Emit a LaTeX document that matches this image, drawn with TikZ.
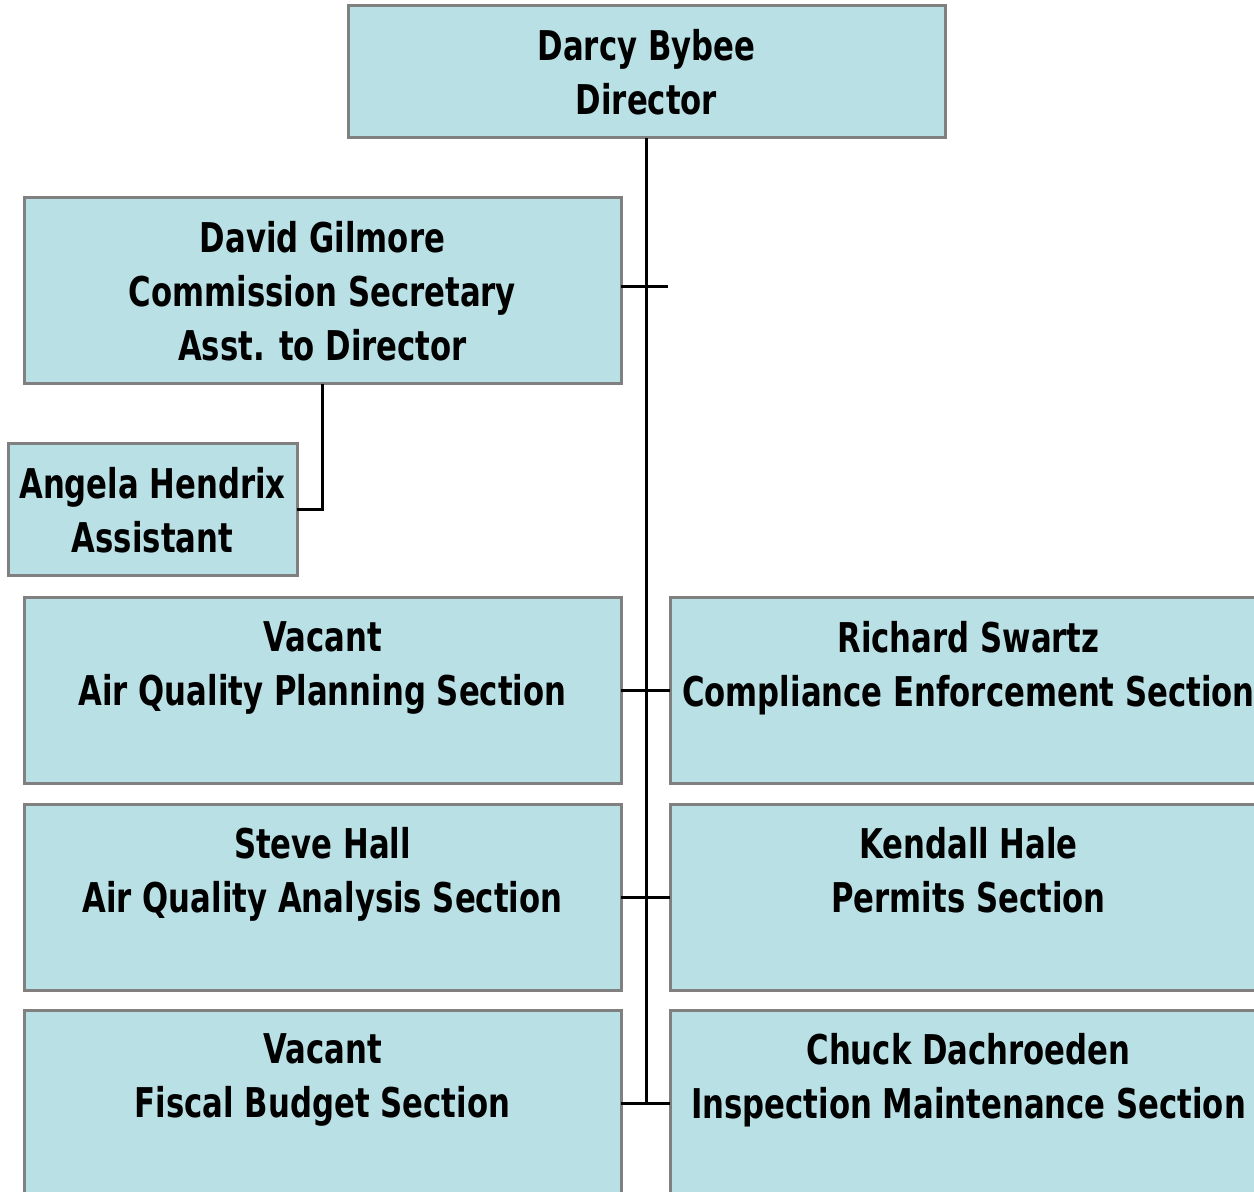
\documentclass[tikz,border=0pt]{standalone}
\usepackage{fontspec}
\setmainfont{DejaVu Sans}[FakeStretch=0.75]
\definecolor{boxfill}{RGB}{185,224,228}
\definecolor{boxline}{RGB}{128,128,128}
\begin{document}
\begin{tikzpicture}[x=0.5pt,y=-0.5pt,
        orgbox/.style={draw=boxline,line width=1.5pt,fill=boxfill,inner sep=0pt,outer sep=0pt,
            align=center,font=\bfseries\fontsize{20.5pt}{27pt}\selectfont,
            minimum width=298.5pt,minimum height=93pt},
        link/.style={line width=1.5pt}]

        % Picture frame
        \clip (0,0) rectangle (1254,1192);

        % Draw the director
        \node[orgbox,minimum height=66pt] (director) at (646.5,72) {Darcy Bybee\\Director};

        % Draw the staff
        \node[orgbox] (gilmore) at (322.5,291) {David Gilmore\\Commission Secretary\\Asst. to Director};
        \node[orgbox,minimum width=144.5pt,minimum height=66pt] (hendrix) at (152.5,510) {Angela Hendrix\\Assistant};

        % Draw the sections
        \node[orgbox] (planning) at (322.5,690.5) {Vacant\\Air Quality Planning Section\\\mbox{}};
        \node[orgbox] (compliance) at (968.5,690.5) {Richard Swartz\\Compliance Enforcement Section\\\mbox{}};
        \node[orgbox] (analysis) at (322.5,897) {Steve Hall\\Air Quality Analysis Section\\\mbox{}};
        \node[orgbox] (permits) at (968.5,897) {Kendall Hale\\Permits Section\\\mbox{}};
        \node[orgbox] (fiscal) at (322.5,1103) {Vacant\\Fiscal Budget Section\\\mbox{}};
        \node[orgbox] (inspection) at (968.5,1103) {Chuck Dachroeden\\Inspection Maintenance Section\\\mbox{}};

        % Draw the connectors
        \coordinate (stub) at (668,287);
        \draw[link] (director.south) -- (director.south |- fiscal.east);
        \draw[link] (gilmore.east |- stub) -- (stub);
        \draw[link] (gilmore.south) |- (hendrix.east);
        \draw[link] (planning.east) -- (compliance.west);
        \draw[link] (analysis.east) -- (permits.west);
        \draw[link] (fiscal.east) -- (inspection.west);
    \end{tikzpicture}
\end{document}
